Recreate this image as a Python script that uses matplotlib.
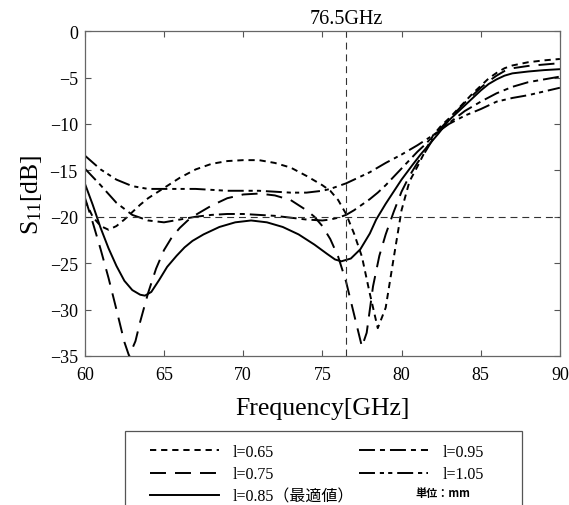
import matplotlib
matplotlib.use('Agg')
import matplotlib.pyplot as plt
from matplotlib.lines import Line2D
from matplotlib.patches import Rectangle
from matplotlib.font_manager import FontProperties

plt.rcParams['font.family'] = ['Liberation Serif', 'Noto Sans CJK JP']
plt.rcParams['mathtext.fontset'] = 'custom'
plt.rcParams['mathtext.rm'] = 'Liberation Serif'
plt.rcParams['mathtext.it'] = 'Liberation Serif:italic'
plt.rcParams['lines.scale_dashes'] = False

# 読み取った S11 データ (周波数 GHz, dB)
f_065 = [60, 60.5, 61, 61.5, 62, 62.5, 63, 63.5, 64, 65, 66, 67, 68, 69, 70, 71, 72, 73, 74, 74.5,
         75, 75.5, 76, 76.5, 77, 77.5, 78, 78.5, 79, 79.5, 80, 80.5, 81, 81.5, 82, 82.5, 83, 83.5,
         84, 84.5, 85, 85.5, 86, 86.5, 87, 88, 89, 90]
s_065 = [-18.2, -20.0, -21.0, -21.4, -21.0, -20.3, -19.5, -18.7, -18.0, -16.9, -15.8, -14.9, -14.3,
         -14.0, -13.9, -13.9, -14.2, -14.7, -15.6, -16.1, -16.6, -17.2, -18.2, -19.7, -21.8, -24.3,
         -28.3, -32.0, -29.8, -24.5, -19.3, -16.2, -14.6, -12.9, -11.2, -10.2, -9.4, -8.5, -7.6,
         -6.7, -5.9, -5.1, -4.5, -4.0, -3.7, -3.35, -3.15, -3.0]

f_075 = [60, 60.5, 61, 61.5, 62, 62.5, 62.8, 63.2, 63.5, 64, 64.5, 65, 65.5, 66, 66.5, 67, 68, 69,
         70, 71, 72, 73, 74, 74.5, 75, 75.5, 76, 76.5, 77, 77.5, 77.8, 78.2, 78.6, 79, 79.5, 80,
         80.5, 81, 81.5, 82, 82.5, 83, 83.5, 84, 84.5, 85, 85.5, 86, 86.5, 87, 88, 89, 90]
s_075 = [-17.9, -20.6, -23.5, -26.6, -30.0, -33.5, -35.0, -33.4, -31.3, -28.2, -25.6, -23.6, -22.2,
         -21.2, -20.4, -19.8, -18.8, -18.0, -17.6, -17.5, -17.7, -18.2, -19.3, -20.0, -21.0, -22.4,
         -24.3, -27.0, -30.5, -34.0, -32.5, -27.5, -24.2, -21.9, -19.5, -17.3, -15.6, -14.2, -13.0,
         -11.6, -10.4, -9.5, -8.6, -7.7, -6.9, -6.1, -5.4, -4.8, -4.3, -4.0, -3.75, -3.6, -3.45]

f_085 = [60, 60.5, 61, 61.5, 62, 62.5, 63, 63.5, 63.8, 64.2, 64.7, 65.2, 65.8, 66.3, 66.8, 67.5,
         68.5, 69.5, 70.5, 71.5, 72.5, 73.5, 74.5, 75.3, 75.8, 76.2, 76.8, 77.4, 78, 78.4, 79, 79.5,
         80, 80.7, 81.2, 81.7, 82.3, 83, 83.5, 84, 84.5, 85, 85.5, 86, 86.5, 87, 88, 89, 90]
s_085 = [-16.4, -18.7, -21.2, -23.4, -25.3, -26.9, -27.9, -28.4, -28.5, -28.1, -26.8, -25.4, -24.2,
         -23.3, -22.6, -21.9, -21.1, -20.6, -20.4, -20.6, -21.1, -21.9, -23.0, -24.0, -24.6, -24.8,
         -24.5, -23.5, -21.8, -20.3, -18.6, -17.3, -16.0, -14.4, -13.3, -12.3, -11.1, -9.6, -8.8,
         -8.0, -7.2, -6.4, -5.7, -5.2, -4.8, -4.55, -4.35, -4.2, -4.1]

f_095 = [60, 61, 62, 63, 64, 65, 66, 67, 68, 69, 70, 71, 72, 73, 74, 75, 75.5, 76, 76.5, 77, 77.5,
         78, 78.5, 79, 79.5, 80, 80.5, 81, 81.5, 82, 83, 84, 85, 86, 87, 88, 89, 90]
s_095 = [-14.8, -16.6, -18.5, -19.8, -20.4, -20.6, -20.3, -20.0, -19.8, -19.7, -19.7, -19.8, -19.9,
         -20.1, -20.3, -20.4, -20.3, -20.1, -19.8, -19.3, -18.7, -18.1, -17.4, -16.6, -15.7, -14.8,
         -13.9, -13.0, -12.2, -11.3, -9.9, -8.6, -7.6, -6.7, -6.0, -5.5, -5.2, -4.9]

f_105 = [60, 61, 62, 63, 64, 65, 66, 67, 68, 69, 70, 71, 72, 73, 74, 75, 75.5, 76, 76.5, 77, 78,
         79, 80, 81, 82, 83, 84, 85, 86, 87, 88, 89, 90]
s_105 = [-13.4, -14.9, -16.0, -16.7, -17.0, -17.0, -17.0, -17.0, -17.1, -17.2, -17.2, -17.2, -17.3,
         -17.4, -17.4, -17.2, -17.0, -16.7, -16.4, -16.0, -15.2, -14.2, -13.3, -12.3, -11.2, -10.0,
         -9.1, -8.4, -7.6, -7.2, -6.9, -6.5, -6.1]

labels = ['l=0.65', 'l=0.75', 'l=0.85（最適値）', 'l=0.95', 'l=1.05']
styles = [(0, (4.5, 3.5)),
          (0, (11.5, 6.5)),
          '-',
          (0, (11.5, 3.6, 3.6, 3.6)),
          (0, (11.5, 3.5, 3.0, 3.0, 3.0, 3.5))]
freqs = [f_065, f_075, f_085, f_095, f_105]
vals = [s_065, s_075, s_085, s_095, s_105]

xticks = [60, 65, 70, 75, 80, 85, 90]
yticks = [0, -5, -10, -15, -20, -25, -30, -35]
f_mark = 76.5
s_mark = -20

W, H = 569, 506
fig = plt.figure(figsize=(W / 100, H / 100), dpi=100)
ax = fig.add_axes([0.149, 0.2945, 0.835, 0.642])

for f, s, ls in zip(freqs, vals, styles):
    ax.plot(f, s, color='black', lw=1.4, linestyle=ls)

ax.axhline(s_mark, color='#333333', lw=0.8, linestyle=(0, (5, 3.5)))
ax.axvline(f_mark, color='#333333', lw=0.8, linestyle=(0, (5, 3.5)))
ax.text(f_mark, 0.3, '76.5GHz', ha='center', va='bottom', fontsize=14.5)

ax.set_xlim(60, 90)
ax.set_ylim(-35, 0)
ax.set_xticks(xticks)
ax.set_yticks(yticks)
ax.set_yticklabels(['0' if v == 0 else '\u2212%d' % abs(v) for v in yticks])
ax.tick_params(direction='in', top=True, right=True, length=4, width=0.8,
               labelsize=13, colors='#555555', labelcolor='black')
ax.tick_params(axis='x', pad=7)
ax.tick_params(axis='y', pad=5)
for sp in ax.spines.values():
    sp.set_color('#666666')
    sp.set_linewidth(0.9)

ax.set_xlabel('Frequency[GHz]', fontsize=18.5, labelpad=10)
ax.set_ylabel(r'$\mathrm{S}_{11}$[dB]', fontsize=18.5, labelpad=4)

# 凡例 (枠は図の下端で切れる)
fig.patches.append(Rectangle((125 / W, 1 - 540 / H), 397 / W, 108 / H,
                             transform=fig.transFigure, fill=False,
                             edgecolor='#555555', lw=0.9, zorder=1))

handles = [Line2D([], [], color='black', lw=1.4, linestyle=ls) for ls in styles]
handles.append(Line2D([], [], color='none'))
leg_labels = labels + ['']
leg = fig.legend(handles, leg_labels, ncol=2, loc='upper left',
                 bbox_to_anchor=(137.2 / W, 1 - 432 / H),
                 prop=FontProperties(family=['Liberation Serif', 'Noto Sans CJK JP'], size=11.5),
                 frameon=False,
                 handlelength=4.3, handletextpad=0.9, columnspacing=0.3,
                 labelspacing=0.4, borderpad=0.8, borderaxespad=0)

fig.text(415 / W, 1 - 494 / H, '単位：mm', family=['Noto Sans CJK JP'],
         fontsize=8, fontweight='bold', va='center', ha='left', zorder=10)

fig.savefig('out.png', dpi=100)
